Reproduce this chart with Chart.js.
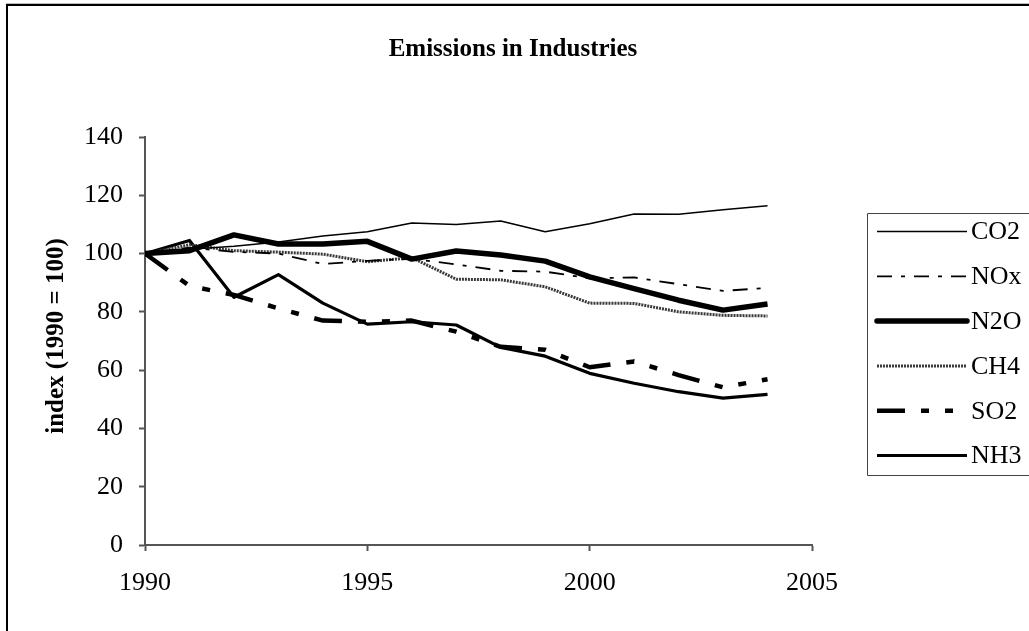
<!DOCTYPE html>
<html>
<head>
<meta charset="utf-8">
<script src="https://cdn.jsdelivr.net/npm/chart.js@4.4.1/dist/chart.umd.min.js"></script>
<style>
  html, body { margin: 0; padding: 0; background: #fff; }
  #wrap { width: 1029px; height: 631px; }
</style>
</head>
<body>
<div id="wrap"><canvas id="c" width="1029" height="631"></canvas></div>
<script>
// Emission indices for industries, 1990 = 100
const years = [1990, 1991, 1992, 1993, 1994, 1995, 1996, 1997, 1998, 1999, 2000, 2001, 2002, 2003, 2004];
const co2 = [100, 101.5, 102.5, 104, 106, 107.5, 110.5, 110, 111.2, 107.5, 110.2, 113.6, 113.5, 115, 116.4];
const nox = [100, 102, 100.6, 100, 96.4, 97.5, 98.2, 96.3, 94.1, 93.8, 91.5, 91.8, 89.5, 87.2, 88.2];
const n2o = [100, 101, 106.4, 103.3, 103.3, 104.2, 98.1, 100.9, 99.5, 97.4, 92, 88, 84, 80.6, 82.7];
const ch4 = [100, 103, 101, 100.5, 99.8, 97.2, 98.6, 91.2, 91, 88.6, 83, 82.9, 80, 78.8, 78.6];
const so2 = [100, 88.9, 85.8, 81.2, 77, 76.6, 77, 73.2, 68, 67, 61, 63, 58.3, 54.1, 56.9];
const nh3 = [100, 104.5, 85, 92.8, 83, 75.8, 76.6, 75.5, 67.8, 64.8, 58.9, 55.5, 52.6, 50.4, 51.7];

const xTicks = [1990, 1995, 2000, 2005];
const yTicks = [0, 20, 40, 60, 80, 100, 120, 140];

const seriesNames = ['CO2', 'NOx', 'N2O', 'CH4', 'SO2', 'NH3'];
const seriesValues = [co2, nox, n2o, ch4, so2, nh3];
const seriesStyles = [
  { color: '#000', width: 1.5, dash: [] },
  { color: '#000', width: 1.8, dash: [15, 9, 4, 9] },
  { color: '#000', width: 5.5, dash: [] },
  { color: '#3a3a3a', width: 3, dash: [2, 1] },
  { color: '#000', width: 4.5, dash: [28, 16, 8, 16, 8, 16] },
  { color: '#000', width: 3.2, dash: [] }
];

const serif = "'Liberation Serif', 'Times New Roman', serif";

const datasets = seriesNames.map((name, i) => ({
  label: name,
  data: years.map((y, j) => ({ x: y, y: seriesValues[i][j] })),
  borderColor: seriesStyles[i].color,
  borderWidth: seriesStyles[i].width,
  borderDash: seriesStyles[i].dash,
  borderCapStyle: 'butt',
  borderJoinStyle: 'round',
  pointRadius: 0,
  tension: 0,
  fill: false
}));

// Frame, title, rotated axis title and boxed legend
const decor = {
  id: 'decor',
  beforeDraw(chart) {
    const ctx = chart.ctx;
    ctx.save();
    ctx.fillStyle = '#fff';
    ctx.fillRect(0, 0, chart.width, chart.height);
    ctx.restore();
  },
  afterDraw(chart) {
    const ctx = chart.ctx;
    ctx.save();
    // outer frame (left and top edges lie inside the page)
    ctx.strokeStyle = '#000';
    ctx.lineWidth = 2;
    ctx.beginPath();
    ctx.moveTo(7, chart.height);
    ctx.lineTo(7, 5);
    ctx.lineTo(chart.width, 5);
    ctx.stroke();
    ctx.strokeStyle = '#bbb';
    ctx.lineWidth = 1;
    ctx.beginPath();
    ctx.moveTo(6, 3.5);
    ctx.lineTo(chart.width, 3.5);
    ctx.stroke();

    // title
    ctx.fillStyle = '#000';
    ctx.font = 'bold 25px ' + serif;
    ctx.textAlign = 'center';
    ctx.textBaseline = 'middle';
    ctx.fillText('Emissions in Industries', 513, 50);

    // y axis title
    ctx.save();
    ctx.translate(57, 336);
    ctx.rotate(-Math.PI / 2);
    ctx.font = 'bold 25px ' + serif;
    ctx.fillText('index (1990 = 100)', 0, 0);
    ctx.restore();

    // legend box, running off the right edge
    ctx.strokeStyle = '#444';
    ctx.lineWidth = 1;
    ctx.beginPath();
    ctx.moveTo(chart.width, 213.5);
    ctx.lineTo(867.5, 213.5);
    ctx.lineTo(867.5, 475.5);
    ctx.lineTo(chart.width, 475.5);
    ctx.stroke();
    const ds = chart.data.datasets;
    ds.forEach((d, i) => {
      const y = 231.5 + i * 44.8;
      ctx.save();
      ctx.strokeStyle = d.borderColor;
      ctx.lineWidth = d.borderWidth;
      ctx.setLineDash(d.borderDash || []);
      ctx.lineCap = d.borderWidth > 5 ? 'round' : 'butt';
      ctx.beginPath();
      ctx.moveTo(877, y);
      ctx.lineTo(967, y);
      ctx.stroke();
      ctx.restore();
      ctx.fillStyle = '#000';
      ctx.font = '26px ' + serif;
      ctx.textAlign = 'left';
      ctx.textBaseline = 'middle';
      ctx.fillText(d.label, 971, y + 1);
    });
    ctx.restore();
  }
};

new Chart(document.getElementById('c'), {
  type: 'line',
  data: { datasets },
  plugins: [decor],
  options: {
    responsive: false,
    animation: false,
    layout: { padding: { top: 137, right: 217, bottom: 0, left: 0 } },
    plugins: { legend: { display: false }, tooltip: { enabled: false }, title: { display: false } },
    scales: {
      x: {
        type: 'linear',
        min: 1990,
        max: 2005,
        afterBuildTicks(scale) { scale.ticks = xTicks.map(v => ({ value: v })); },
        afterFit(scale) { scale.height = 86; scale.paddingLeft = 0; scale.paddingRight = 0; },
        ticks: {
          color: '#000',
          font: { family: serif, size: 26 },
          padding: 17,
          maxRotation: 0,
          autoSkip: false,
          callback: v => String(v)
        },
        grid: { drawOnChartArea: false, drawTicks: true, tickLength: 6, color: '#555', tickWidth: 2 },
        border: { color: '#555', width: 2 }
      },
      y: {
        type: 'linear',
        min: 0,
        max: 140,
        afterBuildTicks(scale) { scale.ticks = yTicks.map(v => ({ value: v })); },
        afterFit(scale) { scale.width = 145; scale.paddingTop = 0; scale.paddingBottom = 0; },
        ticks: {
          color: '#000',
          font: { family: serif, size: 26 },
          padding: 16,
          autoSkip: false,
          callback: v => String(v)
        },
        grid: { drawOnChartArea: false, drawTicks: true, tickLength: 6, color: '#555', tickWidth: 2 },
        border: { color: '#555', width: 2 }
      }
    }
  }
});
</script>
</body>
</html>
